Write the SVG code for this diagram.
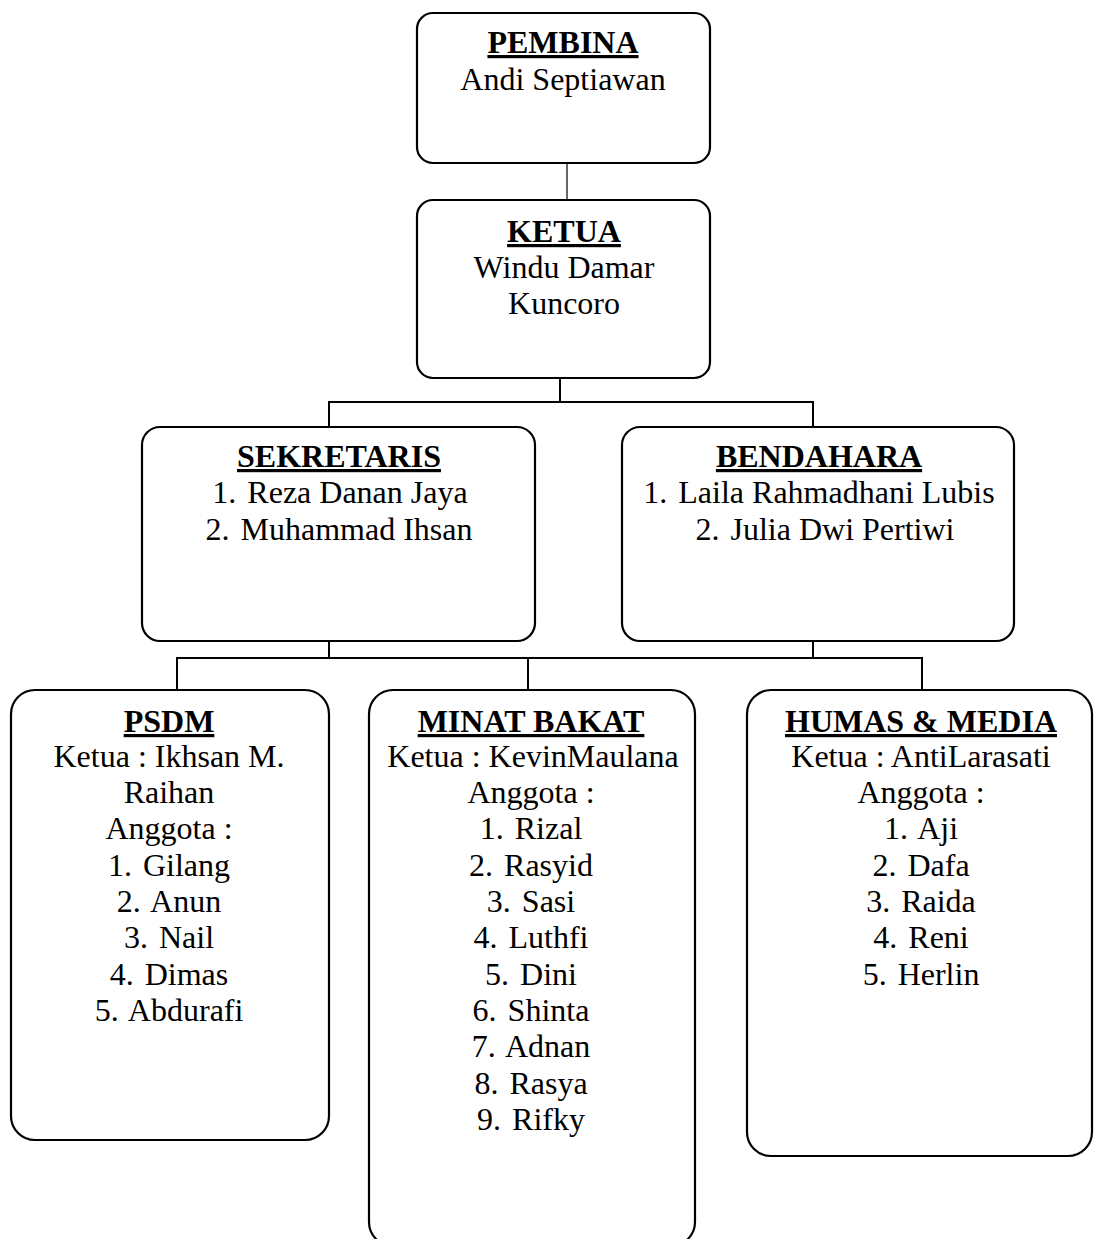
<svg xmlns="http://www.w3.org/2000/svg" width="1094" height="1239" viewBox="0 0 1094 1239">
<style>
.box{fill:#fff;stroke:#000;stroke-width:2.2}
.con{fill:none;stroke:#000;stroke-width:2}
.thin{fill:none;stroke:#000;stroke-width:1.2}
text{font-family:"Liberation Serif","Times New Roman",serif;font-size:32px;fill:#000;text-anchor:middle}
.t{font-weight:bold;text-decoration:underline}
</style>
<rect width="1094" height="1239" fill="#fff"/>
<g id="connectors">
<line class="thin" x1="567" y1="163" x2="567" y2="200"/>
<polyline class="con" points="560,378 560,402"/>
<polyline class="con" points="329,427 329,402 813,402 813,427"/>
<polyline class="con" points="329,641 329,658"/>
<polyline class="con" points="813,641 813,658"/>
<polyline class="con" points="177,690 177,658 922,658 922,690"/>
<line class="con" x1="528" y1="658" x2="528" y2="690"/>
</g>
<g id="pembina">
<rect class="box" x="417" y="13" width="293" height="150" rx="16"/>
<text class="t" x="563" y="53">PEMBINA</text>
<text x="563" y="90">Andi Septiawan</text>
</g>
<g id="ketua">
<rect class="box" x="417" y="200" width="293" height="178" rx="16"/>
<text class="t" x="564" y="242">KETUA</text>
<text x="564" y="278">Windu Damar</text>
<text x="564" y="314">Kuncoro</text>
</g>
<g id="sekretaris">
<rect class="box" x="142" y="427" width="393" height="214" rx="18"/>
<text class="t" x="339" y="467">SEKRETARIS</text>
<text x="340" y="503">1. <tspan dx="3">Reza Danan Jaya</tspan></text>
<text x="339" y="540">2. <tspan dx="3">Muhammad Ihsan</tspan></text>
</g>
<g id="bendahara">
<rect class="box" x="622" y="427" width="392" height="214" rx="18"/>
<text class="t" x="819" y="467">BENDAHARA</text>
<text x="819" y="503">1. <tspan dx="3">Laila Rahmadhani Lubis</tspan></text>
<text x="825" y="540">2. <tspan dx="3">Julia Dwi Pertiwi</tspan></text>
</g>
<g id="psdm">
<rect class="box" x="11" y="690" width="318" height="450" rx="24"/>
<text class="t" x="169" y="732">PSDM</text>
<text x="169" y="767">Ketua : Ikhsan M.</text>
<text x="169" y="803">Raihan</text>
<text x="169" y="839">Anggota :</text>
<text x="169" y="876">1. <tspan dx="3">Gilang</tspan></text>
<text x="169" y="912">2. <tspan dx="3">Anun</tspan></text>
<text x="169" y="948">3. <tspan dx="3">Nail</tspan></text>
<text x="169" y="985">4. <tspan dx="3">Dimas</tspan></text>
<text x="169" y="1021">5. <tspan dx="3">Abdurafi</tspan></text>
</g>
<g id="minat-bakat">
<rect class="box" x="369" y="690" width="326" height="556" rx="24"/>
<text class="t" x="531" y="732">MINAT BAKAT</text>
<text x="533" y="767">Ketua : KevinMaulana</text>
<text x="531" y="803">Anggota :</text>
<text x="531" y="839">1. <tspan dx="3">Rizal</tspan></text>
<text x="531" y="876">2. <tspan dx="3">Rasyid</tspan></text>
<text x="531" y="912">3. <tspan dx="3">Sasi</tspan></text>
<text x="531" y="948">4. <tspan dx="3">Luthfi</tspan></text>
<text x="531" y="985">5. <tspan dx="3">Dini</tspan></text>
<text x="531" y="1021">6. <tspan dx="3">Shinta</tspan></text>
<text x="531" y="1057">7. <tspan dx="3">Adnan</tspan></text>
<text x="531" y="1094">8. <tspan dx="3">Rasya</tspan></text>
<text x="531" y="1130">9. <tspan dx="3">Rifky</tspan></text>
</g>
<g id="humas-media">
<rect class="box" x="747" y="690" width="345" height="466" rx="24"/>
<text class="t" x="921" y="732">HUMAS &amp; MEDIA</text>
<text x="921" y="767">Ketua : AntiLarasati</text>
<text x="921" y="803">Anggota :</text>
<text x="921" y="839">1. <tspan dx="3">Aji</tspan></text>
<text x="921" y="876">2. <tspan dx="3">Dafa</tspan></text>
<text x="921" y="912">3. <tspan dx="3">Raida</tspan></text>
<text x="921" y="948">4. <tspan dx="3">Reni</tspan></text>
<text x="921" y="985">5. <tspan dx="3">Herlin</tspan></text>
</g>
</svg>
